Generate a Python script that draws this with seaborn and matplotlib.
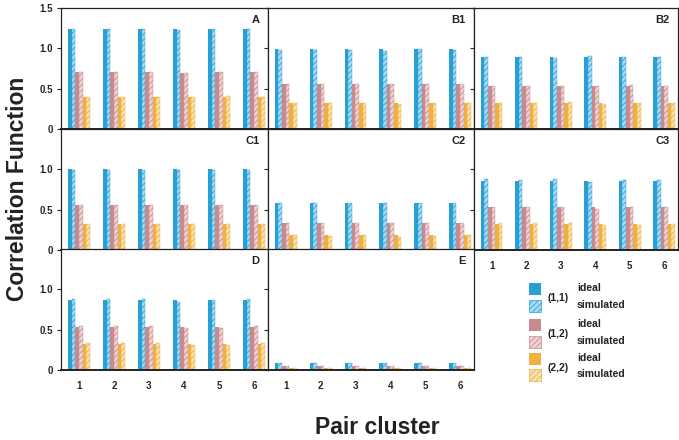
import pandas as pd
import matplotlib
matplotlib.use("Agg")
import matplotlib.pyplot as plt
from matplotlib.patches import Rectangle
import seaborn as sns

sns.set_style("white")
plt.rcParams["font.family"] = ["Liberation Sans", "DejaVu Sans"]
plt.rcParams["font.weight"] = "bold"
plt.rcParams["hatch.linewidth"] = 0.6

clusters = ["1", "2", "3", "4", "5", "6"]
series = ["(1,1) ideal", "(1,1) simulated", "(1,2) ideal",
          "(1,2) simulated", "(2,2) ideal", "(2,2) simulated"]
colors = ["#2a9fd6", "#2a9fd6", "#c98a8e", "#c98a8e", "#eeb040", "#eeb040"]
light = ["#a9dcf2", "#a9dcf2", "#ecd3d4", "#ecd3d4", "#f9e1b0", "#f9e1b0"]

# values read per panel, one list per series (6 pair clusters)
A = [[1.24, 1.24, 1.24, 1.24, 1.24, 1.24],
     [1.24, 1.24, 1.24, 1.23, 1.24, 1.24],
     [0.71, 0.71, 0.71, 0.70, 0.71, 0.71],
     [0.71, 0.71, 0.71, 0.69, 0.71, 0.71],
     [0.40, 0.40, 0.40, 0.40, 0.40, 0.40],
     [0.40, 0.40, 0.40, 0.40, 0.41, 0.40]]
B1 = [[0.99, 0.99, 0.99, 0.99, 0.99, 0.99],
      [0.98, 0.98, 0.98, 0.97, 0.99, 0.98],
      [0.56, 0.56, 0.56, 0.56, 0.56, 0.56],
      [0.56, 0.56, 0.56, 0.56, 0.56, 0.56],
      [0.32, 0.32, 0.32, 0.32, 0.32, 0.32],
      [0.32, 0.32, 0.32, 0.31, 0.32, 0.32]]
B2 = [[0.89, 0.89, 0.89, 0.89, 0.89, 0.89],
      [0.89, 0.89, 0.88, 0.90, 0.89, 0.89],
      [0.53, 0.53, 0.53, 0.53, 0.53, 0.53],
      [0.53, 0.53, 0.53, 0.53, 0.54, 0.53],
      [0.32, 0.32, 0.32, 0.32, 0.32, 0.32],
      [0.32, 0.32, 0.34, 0.31, 0.32, 0.32]]
C1 = [[1.00, 1.00, 1.00, 1.00, 1.00, 1.00],
      [0.99, 0.99, 0.99, 0.99, 0.99, 0.99],
      [0.56, 0.56, 0.56, 0.56, 0.56, 0.56],
      [0.56, 0.56, 0.56, 0.56, 0.56, 0.56],
      [0.32, 0.32, 0.32, 0.32, 0.32, 0.32],
      [0.32, 0.32, 0.32, 0.32, 0.32, 0.32]]
C2 = [[0.58, 0.58, 0.58, 0.58, 0.58, 0.58],
      [0.58, 0.58, 0.58, 0.58, 0.58, 0.58],
      [0.33, 0.33, 0.33, 0.33, 0.33, 0.33],
      [0.33, 0.33, 0.33, 0.34, 0.33, 0.33],
      [0.18, 0.18, 0.18, 0.18, 0.18, 0.18],
      [0.19, 0.17, 0.19, 0.16, 0.17, 0.18]]
C3 = [[0.86, 0.86, 0.86, 0.86, 0.86, 0.86],
      [0.88, 0.87, 0.88, 0.84, 0.87, 0.87],
      [0.53, 0.53, 0.53, 0.53, 0.53, 0.53],
      [0.53, 0.53, 0.53, 0.51, 0.53, 0.53],
      [0.32, 0.32, 0.32, 0.32, 0.32, 0.32],
      [0.33, 0.33, 0.33, 0.31, 0.31, 0.32]]
D = [[0.865, 0.865, 0.865, 0.865, 0.865, 0.865],
     [0.875, 0.875, 0.875, 0.84, 0.87, 0.875],
     [0.535, 0.535, 0.535, 0.535, 0.535, 0.535],
     [0.54, 0.54, 0.54, 0.515, 0.525, 0.54],
     [0.32, 0.32, 0.32, 0.32, 0.32, 0.32],
     [0.33, 0.33, 0.33, 0.31, 0.31, 0.33]]
E = [[0.085, 0.085, 0.085, 0.085, 0.085, 0.085],
     [0.085, 0.085, 0.085, 0.085, 0.085, 0.085],
     [0.05, 0.05, 0.05, 0.05, 0.05, 0.05],
     [0.05, 0.05, 0.05, 0.05, 0.05, 0.05],
     [0.03, 0.03, 0.03, 0.03, 0.03, 0.03],
     [0.03, 0.03, 0.03, 0.03, 0.03, 0.03]]

panels = [("A", A, 0, 0), ("B1", B1, 0, 1), ("B2", B2, 0, 2),
          ("C1", C1, 1, 0), ("C2", C2, 1, 1), ("C3", C3, 1, 2),
          ("D", D, 2, 0), ("E", E, 2, 1)]

W, H = 679, 440
fig = plt.figure(figsize=(W / 100, H / 100), dpi=100)

col_x = [61, 268, 474]
col_w = [207, 206, 204]
row_top = [8, 129, 249]
row_h = 121

for name, vals, r, c in panels:
    rows = []
    for s, v in zip(series, vals):
        for cl, y in zip(clusters, v):
            rows.append({"cluster": cl, "series": s, "value": y})
    df = pd.DataFrame(rows)

    ax = fig.add_axes([col_x[c] / W, (H - row_top[r] - row_h) / H,
                       col_w[c] / W, row_h / H])
    sns.barplot(data=df, x="cluster", y="value", hue="series",
                hue_order=series, palette=colors, width=0.63,
                dodge=True, legend=False, ax=ax, saturation=1)
    for i, cont in enumerate(ax.containers):
        for p in cont:
            if i % 2 == 1:
                p.set_facecolor(light[i])
                p.set_edgecolor(colors[i])
                p.set_hatch("//////")
                p.set_linewidth(0.3)
            else:
                p.set_linewidth(0)

    ax.set_xlim(-0.51, 5.4)
    ax.set_ylim(0, 1.5)
    ax.set_xlabel("")
    ax.set_ylabel("")
    for sp in ax.spines.values():
        sp.set_visible(True)
        sp.set_color("#222222")
        sp.set_linewidth(0.9)
    ax.spines["bottom"].set_linewidth(1.4)

    ax.set_yticks([0, 0.5, 1.0, 1.5] if r == 0 else [0, 0.5, 1.0])
    ax.tick_params(axis="y", direction="out", length=3, width=0.8,
                   labelsize=7, pad=3, left=True, right=(c == 2))
    if c == 0:
        ax.set_yticklabels(["0", "0.5", "1.0", "1.5"] if r == 0 else ["0", "0.5", "1.0"],
                           fontweight="bold")
    else:
        ax.set_yticklabels([])

    ax.tick_params(axis="x", length=0, labelsize=7, pad=8)
    if r == 2 or (r == 1 and c == 2):
        ax.set_xticklabels(clusters, fontweight="bold")
    else:
        ax.set_xticklabels([])

    ax.text(0.96, 0.9, name, transform=ax.transAxes, ha="right", va="center",
            fontsize=8, fontweight="bold", color="#222222")

# legend area and axis titles, in pixel coordinates
lax = fig.add_axes([0, 0, 1, 1])
lax.set_xlim(0, W)
lax.set_ylim(H, 0)
lax.axis("off")

patch_y = [283, 300, 319, 336, 353, 369]
for i, y in enumerate(patch_y):
    if i % 2 == 0:
        lax.add_patch(Rectangle((529, y), 12, 12, facecolor=colors[i], lw=0))
    else:
        lax.add_patch(Rectangle((529, y), 12, 12, facecolor=light[i],
                                edgecolor=colors[i], hatch="//////", lw=0.5))
    lax.text(577, y + 5, "ideal" if i % 2 == 0 else "simulated",
             fontsize=7.5, fontweight="bold", va="center", ha="left", color="#222222")
for g, lab in enumerate(["(1,1)", "(1,2)", "(2,2)"]):
    lax.text(547, patch_y[2 * g] + 15, lab, fontsize=7.5, fontweight="bold",
             va="center", ha="left", color="#222222")

lax.text(18, 189, "Correlation Function", rotation=90, ha="center", va="center",
         fontsize=16.5, fontweight="bold", color="#222222")
lax.text(377, 427, "Pair cluster", ha="center", va="center",
         fontsize=16.5, fontweight="bold", color="#222222")

fig.savefig("out.png", dpi=100)
